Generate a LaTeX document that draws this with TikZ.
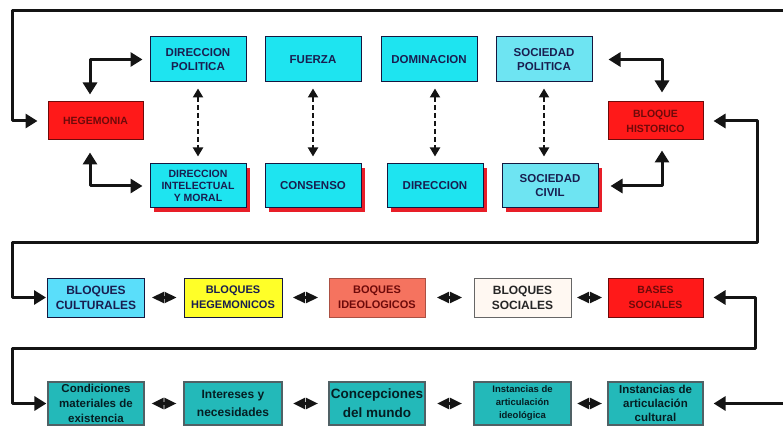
\documentclass[tikz,border=0pt]{standalone}
\usepackage{fontspec}
\setmainfont{Liberation Sans}
\usetikzlibrary{arrows.meta,shadows}

\definecolor{cyanbox}{RGB}{30,228,240}
\definecolor{cyanlight}{RGB}{110,228,242}
\definecolor{culturalbox}{RGB}{90,222,250}
\definecolor{redbox}{RGB}{255,25,25}
\definecolor{redtext}{RGB}{110,10,10}
\definecolor{yellowbox}{RGB}{255,255,40}
\definecolor{salmonbox}{RGB}{245,115,95}
\definecolor{whitebox}{RGB}{255,248,242}
\definecolor{tealbox}{RGB}{35,185,185}
\definecolor{navytext}{RGB}{25,30,80}
\definecolor{tealtext}{RGB}{5,30,35}
\definecolor{shadowred}{RGB}{232,30,40}
\definecolor{ink}{RGB}{20,20,20}

\tikzset{
  box/.style={draw=navytext!80!black, line width=1pt, align=center,
    inner sep=1pt, font=\bfseries\fontsize{11.5}{14}\selectfont, text=navytext},
  topbox/.style={box, fill=cyanbox, minimum width=96pt, minimum height=45pt},
  socbox/.style={topbox, fill=cyanlight},
  redshadow/.style={general shadow={fill=shadowred, shadow xshift=4pt, shadow yshift=-4pt}},
  keybox/.style={box, fill=redbox, draw=redtext, text=redtext,
    minimum width=95pt, minimum height=38pt, font=\bfseries\fontsize{10.5}{15}\selectfont},
  rowbox/.style={box, minimum width=97pt, minimum height=39pt,
    font=\bfseries\fontsize{12}{15}\selectfont},
  basebox/.style={box, fill=tealbox, draw=tealtext!70, line width=1.2pt, text=tealtext,
    minimum width=96pt, minimum height=43pt},
  link/.style={draw=ink, line width=3pt, line join=round},
  onehead/.style={link, -{Triangle[length=12pt,width=14pt]}},
  twohead/.style={link, {Triangle[length=12pt,width=14pt]}-{Triangle[length=12pt,width=14pt]}},
  dashlink/.style={draw=ink, line width=2pt, dashed, dash pattern=on 5pt off 3pt,
    {Triangle[length=9pt,width=10pt]}-{Triangle[length=9pt,width=10pt]}},
  pairlink/.style={draw=ink, line width=2.2pt, shorten <=#1, shorten >=#1,
    {Triangle[length=12pt,width=11pt]}-{Triangle[length=12pt,width=11pt]}}
}

\begin{document}
\begin{tikzpicture}[x=1pt,y=-1pt]
\useasboundingbox (0,0) rectangle (783,427);

% upper block: hegemonia and bloque historico
\node[keybox] (hegemonia) at (95.5,121) {HEGEMONIA};
\node[keybox] (bloqueh) at (655.5,121) {BLOQUE\\HISTORICO};

\node[topbox] (dpol) at (198,59.5) {DIRECCION\\POLITICA};
\node[topbox] (fuerza) at (313,59.5) {FUERZA};
\node[topbox] (domin) at (429,59.5) {DOMINACION};
\node[socbox] (socpol) at (544,59.5) {SOCIEDAD\\POLITICA};

\node[topbox, redshadow, minimum height=44pt, font=\bfseries\fontsize{10.5}{12}\selectfont] (dint) at (198,186) {DIRECCION\\INTELECTUAL\\Y MORAL};
\node[topbox, redshadow, minimum height=44pt] (consenso) at (313,186) {CONSENSO};
\node[topbox, redshadow, minimum height=44pt] (direccion) at (435,186) {DIRECCION};
\node[socbox, redshadow, minimum height=44pt] (soccivil) at (550,186) {SOCIEDAD\\CIVIL};

% paired concepts
\draw[dashlink, shorten <=6pt, shorten >=7pt] (dpol.south) -- (dint.north);
\draw[dashlink, shorten <=6pt, shorten >=7pt] (fuerza.south) -- (consenso.north);
\draw[dashlink, shorten <=6pt, shorten >=7pt] (direccion.north |- domin.south) -- (direccion.north);
\draw[dashlink, shorten <=6pt, shorten >=7pt] (socpol.south) -- (socpol.south |- soccivil.north);

% links of hegemonia and bloque historico
\draw[twohead, shorten <=7pt, shorten >=7pt] (dpol.west) -| ([xshift=-5.5pt]hegemonia.north);
\draw[twohead, shorten <=7pt, shorten >=12pt] (dint.west) -| ([xshift=-5.5pt]hegemonia.south);
\draw[twohead, shorten <=16pt, shorten >=9pt] (socpol.east) -| ([xshift=6.5pt]bloqueh.north);
\draw[twohead, shorten <=12pt, shorten >=10pt] (soccivil.east) -| ([xshift=6.5pt]bloqueh.south);

% outer feedback into hegemonia
\coordinate (topright) at (790,11);
\coordinate (topleft) at (12,11);
\draw[onehead, shorten >=10pt] (topright) -- (topleft) |- (hegemonia.west);

% middle row of blocs
\node[rowbox, fill=culturalbox] (bcult) at (96,297.5) {BLOQUES\\CULTURALES};
\node[rowbox, fill=yellowbox, minimum width=98pt, font=\bfseries\fontsize{11}{15}\selectfont] (bheg) at (233,297.5) {BLOQUES\\HEGEMONICOS};
\node[rowbox, fill=salmonbox, text=redtext, draw=salmonbox!70!black, minimum width=96pt, font=\bfseries\fontsize{11}{15}\selectfont] (bideo) at (377,297.5) {BOQUES\\IDEOLOGICOS};
\node[rowbox, fill=whitebox, draw=gray!80!black, text=black!85] (bsoc) at (522.5,297.5) {BLOQUES\\SOCIALES};
\node[keybox, minimum height=39pt] (bases) at (655.5,297.5) {BASES\\SOCIALES};

\draw[pairlink=7pt] (bcult.east) -- (bheg.west);
\draw[pairlink=10.5pt] (bheg.east) -- (bideo.west);
\draw[pairlink=11.5pt] (bideo.east) -- (bsoc.west);
\draw[pairlink=5.5pt] (bsoc.east) -- (bases.west);

\coordinate (midright) at (757,243);
\coordinate (midleft) at (12,243);
\draw[twohead, shorten <=10pt, shorten >=1pt] (bloqueh.east) -| (midright) -- (midleft) |- (bcult.west);

% lower row of instances
\node[basebox, font=\bfseries\fontsize{11.5}{15}\selectfont] (cond) at (96,403.5) {Condiciones\\materiales de\\existencia};
\node[basebox, minimum width=98pt, font=\bfseries\fontsize{12}{18}\selectfont] (inter) at (233,403.5) {Intereses y\\necesidades};
\node[basebox, font=\bfseries\fontsize{13.5}{19}\selectfont, inner sep=0pt] (concep) at (377,403.5) {Concepciones\\del mundo};
\node[basebox, minimum width=97pt, font=\bfseries\fontsize{9.5}{13}\selectfont] (insti) at (522.5,403.5) {Instancias de\\articulación\\ideológica};
\node[basebox, minimum width=95pt, font=\bfseries\fontsize{11.5}{14}\selectfont] (instc) at (655.5,403.5) {Instancias de\\articulación\\cultural};

\draw[pairlink=7pt] (cond.east) -- (inter.west);
\draw[pairlink=10.5pt] (inter.east) -- (concep.west);
\draw[pairlink=11.5pt] (concep.east) -- (insti.west);
\draw[pairlink=5.5pt] (insti.east) -- (instc.west);

\coordinate (lowright) at (755,348);
\coordinate (lowleft) at (12,348);
\draw[twohead, shorten <=10pt, shorten >=1pt] (bases.east) -| (lowright) -- (lowleft) |- (cond.west);

\coordinate (inlet) at (790,403.5);
\draw[onehead, shorten >=10pt] (inlet) -- (instc.east);
\end{tikzpicture}
\end{document}
